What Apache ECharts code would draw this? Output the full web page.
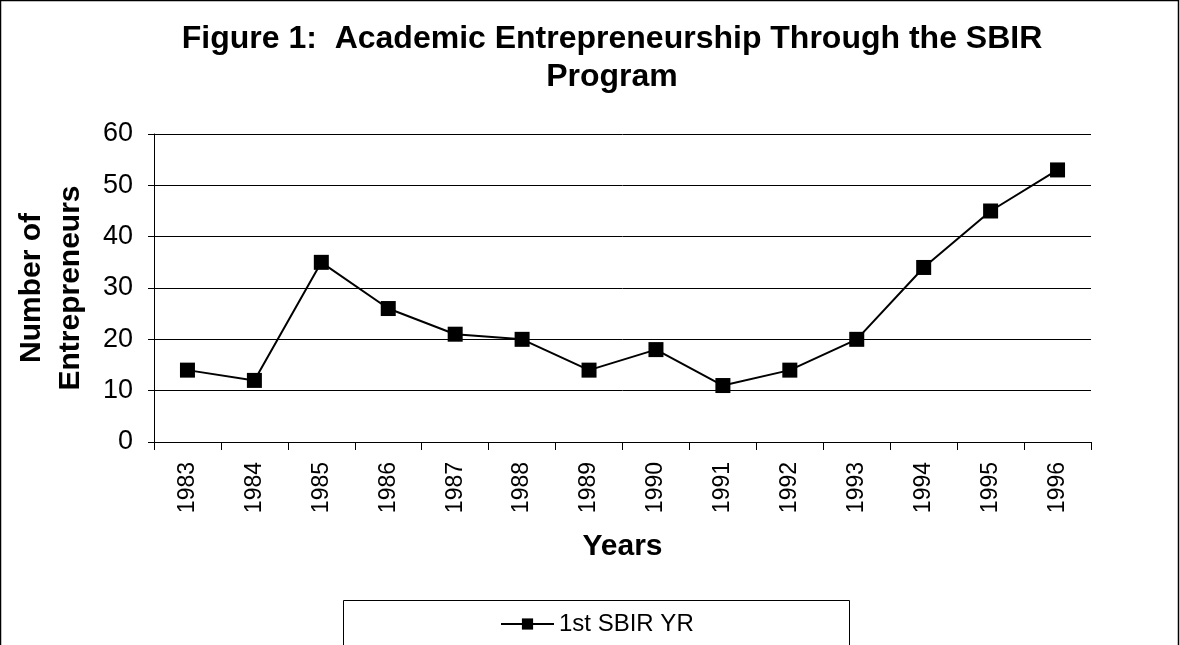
<!DOCTYPE html>
<html>
<head>
<meta charset="utf-8">
<script src="https://cdn.jsdelivr.net/npm/echarts@6/dist/echarts.min.js"></script>
<style>
html,body{margin:0;padding:0;background:#fff;}
#chart{width:1180px;height:645px;}
</style>
</head>
<body>
<div id="chart"></div>
<script>
const years = ['1983','1984','1985','1986','1987','1988','1989','1990','1991','1992','1993','1994','1995','1996'];
const entrepreneurs = [14,12,35,26,21,20,14,18,11,14,20,34,45,53];
const seriesName = '1st SBIR YR';
const titleText = 'Figure 1:  Academic Entrepreneurship Through the SBIR\nProgram';

const chart = echarts.init(document.getElementById('chart'));
const font = 'Liberation Sans, Arial, sans-serif';
chart.setOption({
  animation: false,
  backgroundColor: '#fff',
  graphic: [
    {type:'rect', shape:{x:0.5,y:0.5,width:1178,height:700}, style:{fill:'none',stroke:'#000',lineWidth:1.5}, z:-1},
    {type:'rect', shape:{x:343.5,y:600.5,width:506,height:100}, style:{fill:'#fff',stroke:'#000',lineWidth:1}, z:0}
  ],
  title: {
    text: titleText,
    left: 607,
    textAlign: 'center',
    top: 15,
    textStyle: {fontFamily: font, fontWeight:'bold', fontSize: 32, color:'#000', lineHeight: 38, align:'center'}
  },
  legend: {
    left: 495,
    top: 607,
    itemWidth: 53,
    itemHeight: 14,
    itemGap: 5,
    data: [seriesName],
    textStyle: {fontFamily: font, fontSize: 24, color:'#000', padding:[0,0,0,0]},
    z: 5
  },
  grid: {left: 154, right: 89, top: 134, bottom: 203, containLabel: false, outerBoundsMode: 'none'},
  xAxis: {
    type: 'category',
    data: years,
    boundaryGap: true,
    name: 'Years',
    nameLocation: 'middle',
    nameGap: 90,
    nameTextStyle: {fontFamily: font, fontWeight:'bold', fontSize: 30, color:'#000'},
    axisLine: {lineStyle:{color:'#000', width:1}},
    axisTick: {show:true, alignWithLabel:false, length:8, lineStyle:{color:'#000'}},
    axisLabel: {rotate: 90, fontFamily: font, fontSize: 23, color:'#000', margin: 20, interval: 0}
  },
  yAxis: {
    type: 'value',
    min: 0, max: 60, interval: 10,
    name: 'Number of\nEntrepreneurs',
    nameLocation: 'middle',
    nameGap: 64,
    nameRotate: 90,
    nameTextStyle: {fontFamily: font, fontWeight:'bold', fontSize: 30, color:'#000', lineHeight: 39, align:'center'},
    axisLine: {show:true, lineStyle:{color:'#000', width:1}},
    axisTick: {show:true, length:6, lineStyle:{color:'#000'}},
    axisLabel: {fontFamily: font, fontSize: 27, color:'#000', margin: 21},
    splitLine: {show:true, lineStyle:{color:'#000', width:1}}
  },
  series: [{
    name: seriesName,
    type: 'line',
    data: entrepreneurs,
    symbol: 'rect',
    symbolSize: 15,
    itemStyle: {color:'#000'},
    lineStyle: {color:'#000', width: 2}
  }]
});
</script>
</body>
</html>
